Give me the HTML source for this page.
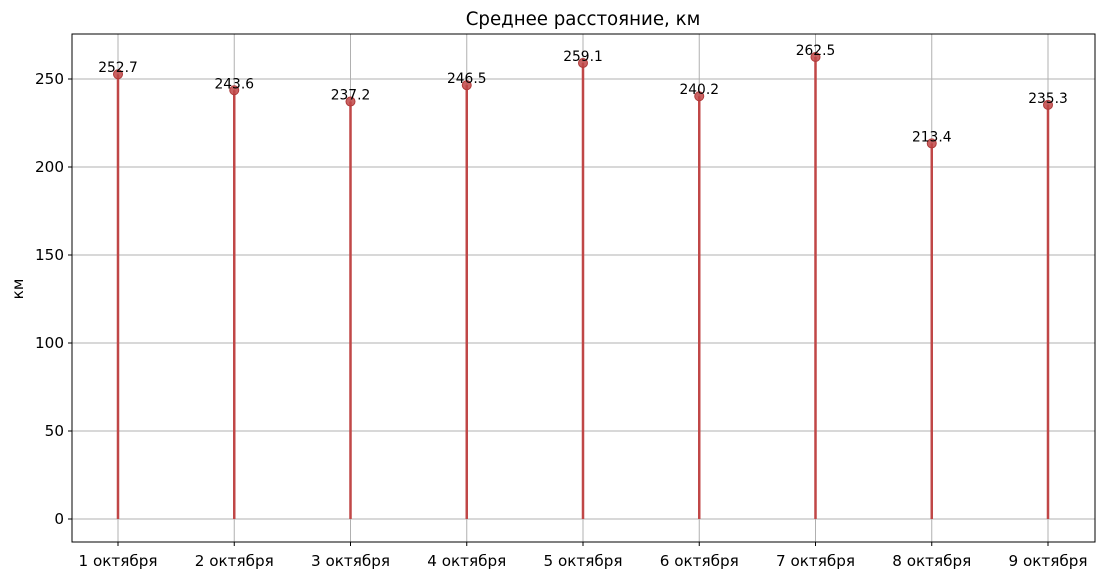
<!DOCTYPE html>
<html><head><meta charset="utf-8"><style>
body{margin:0;background:#fff;}
svg{display:block;font-family:"DejaVu Sans","Liberation Sans",sans-serif;}
</style></head><body>
<svg id="chart" width="1105" height="580">
<text x="583" y="25" text-anchor="middle" font-size="18.2">Среднее расстояние, км</text>
<text transform="translate(23,289) rotate(-90)" text-anchor="middle" font-size="15.2">км</text>
<g id="grid"></g><g id="marks"></g><g id="axes"></g>
<rect x="72" y="34" width="1023" height="508" fill="none" stroke="#000" stroke-width="1"/>
</svg>
<script>
const categories=["1 октября","2 октября","3 октября","4 октября","5 октября","6 октября","7 октября","8 октября","9 октября"];
const values=[252.7,243.6,237.2,246.5,259.1,240.2,262.5,213.4,235.3];
const yTicks=[0,50,100,150,200,250];
const NS="http://www.w3.org/2000/svg";
const L=72,R=1095;
const x=i=>118+i*(1048-118)/(categories.length-1);
const y=v=>519-v*(440/250);
function mk(t,a,p){const e=document.createElementNS(NS,t);for(const k in a)e.setAttribute(k,a[k]);document.getElementById(p).appendChild(e);return e;}
yTicks.forEach(t=>{
 const g=mk('line',{x1:L,x2:R,y1:y(t),y2:y(t),stroke:'#b0b0b0','stroke-width':1},'grid');
 
 
 mk('line',{x1:L-4,x2:L,y1:y(t),y2:y(t),stroke:'#000'},'axes');
 const tx=mk('text',{x:L-8,y:y(t)+5,'text-anchor':'end','font-size':15.2},'axes');tx.textContent=t;
 
 
});
categories.forEach((c,i)=>{
 const g=mk('line',{x1:x(i),x2:x(i),y1:34,y2:542,stroke:'#b0b0b0','stroke-width':1},'grid');
 
 
 mk('line',{x1:x(i),x2:x(i),y1:542,y2:546,stroke:'#000'},'axes');
 const tx=mk('text',{x:x(i),y:566,'text-anchor':'middle','font-size':15.2},'axes');tx.textContent=c;
 
 
 const v=values[i];
 const s=mk('line',{x1:x(i),x2:x(i),y1:y(0),y2:y(v),stroke:'#c04747','stroke-width':2.5},'marks');
 
 
 const d=mk('circle',{cx:x(i),cy:y(v),r:4.5,fill:'#c04747','fill-opacity':0.85,stroke:'#b03a3a'},'marks');
 
 
 const lb=mk('text',{x:x(i),y:y(v)-2,'text-anchor':'middle','font-size':13.8},'marks');lb.textContent=v.toFixed(1);
 
 
});
</script>
</body></html>
